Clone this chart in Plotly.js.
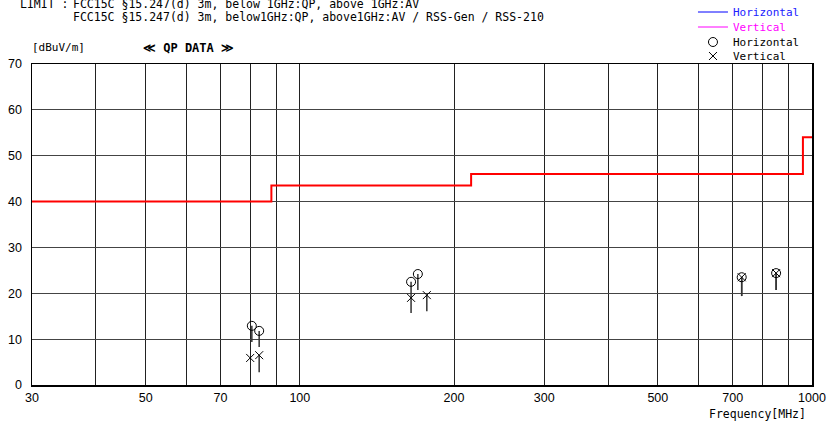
<!DOCTYPE html>
<html>
<head>
<meta charset="utf-8">
<script src="https://cdn.plot.ly/plotly-3.0.1.min.js"></script>
<style>html,body{margin:0;padding:0;background:#fff;}#chart{width:830px;height:426px;}</style>
</head>
<body>
<div id="chart"></div>
<script>
// Limit line (step)
const limitFreq = [30, 88, 216, 960, 1000];
const limitLevel = [40, 43.5, 46, 54, 54];

// Horizontal polarization QP data
const hFreq = [80.6, 83.3, 164.9, 170.0, 729, 851];
const hLevel = [12.9, 11.8, 22.5, 24.2, 23.5, 24.4];
const hStemEnd = [9.4, 8.3, 19.0, 20.7, 19.4, 20.7];

// Vertical polarization QP data
const vFreq = [80.0, 83.3, 164.9, 177.0, 729, 851];
const vLevel = [5.9, 6.5, 19.0, 19.6, 23.5, 24.4];
const vStemEnd = [5.9, 2.8, 15.7, 16.1, 19.4, 20.7];

// Axis ticks
const xGrid = [30, 40, 50, 60, 70, 80, 90, 100, 200, 300, 400, 500, 600, 700, 800, 900, 1000];
const xLabeled = [30, 50, 70, 100, 200, 300, 500, 700, 1000];
const yTicks = [0, 10, 20, 30, 40, 50, 60, 70];

function stems(f, top, bot) {
  const xs = [], ys = [];
  for (let i = 0; i < f.length; i++) {
    xs.push(f[i], f[i], null);
    ys.push(top[i], bot[i], null);
  }
  return {x: xs, y: ys};
}
const hs = stems(hFreq, hLevel, hStemEnd);
const vs = stems(vFreq, vLevel, vStemEnd);

const mono = "DejaVu Sans Mono, Liberation Mono, monospace";
const sans = "Liberation Sans, Arial, sans-serif";

const traces = [
  {x: limitFreq, y: limitLevel, type: 'scatter', mode: 'lines', line: {color: '#ff0000', width: 2, shape: 'hv'}, showlegend: false, hoverinfo: 'skip'},
  {x: hs.x, y: hs.y, type: 'scatter', mode: 'lines', line: {color: '#333', width: 1.5}, showlegend: false, hoverinfo: 'skip'},
  {x: vs.x, y: vs.y, type: 'scatter', mode: 'lines', line: {color: '#333', width: 1.5}, showlegend: false, hoverinfo: 'skip'},
  {x: [null], y: [null], type: 'scatter', mode: 'lines', legend: 'legend', name: '<span style="color:#2020ff">Horizontal</span>', line: {color: '#0000ff', width: 1}},
  {x: [null], y: [null], type: 'scatter', mode: 'lines', legend: 'legend2', name: '<span style="color:#ff00ff">Vertical</span>', line: {color: '#ff00ff', width: 1}},
  {x: hFreq, y: hLevel, type: 'scatter', mode: 'markers', legend: 'legend3', name: 'Horizontal', marker: {symbol: 'circle-open', size: 9, color: '#000', line: {width: 1, color: '#000'}}},
  {x: vFreq, y: vLevel, type: 'scatter', mode: 'markers', legend: 'legend4', name: 'Vertical', marker: {symbol: 'x-thin-open', size: 8, color: '#000', line: {width: 1, color: '#000'}}}
];

function legendAt(py) {
  return {
    x: 0.8474, xanchor: 'left', y: 1 + (64 - py) / 321, yanchor: 'middle',
    bgcolor: 'rgba(0,0,0,0)', borderwidth: 0,
    font: {family: mono, size: 11, color: '#000'},
    itemwidth: 30
  };
}

const layout = {
  width: 830, height: 426,
  margin: {l: 32, r: 18, t: 64, b: 41, autoexpand: false},
  paper_bgcolor: '#fff', plot_bgcolor: '#fff',
  font: {family: sans, size: 12, color: '#000'},
  xaxis: {
    type: 'log', range: [Math.log10(30), Math.log10(1000)],
    tickmode: 'array', tickvals: xGrid,
    ticktext: xGrid.map(v => xLabeled.includes(v) ? String(v) : ''),
    showgrid: true, gridcolor: '#222', gridwidth: 1,
    showline: true, linecolor: '#000', linewidth: 1.5, mirror: true,
    ticks: '', zeroline: false,
    tickfont: {family: sans, size: 12.5}
  },
  yaxis: {
    range: [0, 70], tickmode: 'array', tickvals: yTicks,
    showgrid: true, gridcolor: '#444', gridwidth: 1,
    showline: true, linecolor: '#000', linewidth: 1.5, mirror: true,
    ticks: '', zeroline: false, ticklabelstandoff: 6,
    tickfont: {family: sans, size: 12.5}
  },
  showlegend: true,
  legend: legendAt(12),
  legend2: legendAt(27),
  legend3: legendAt(42),
  legend4: legendAt(56),
  annotations: [
    {xref: 'paper', yref: 'paper', x: -0.018, y: 1.188, xanchor: 'left', yanchor: 'middle', showarrow: false,
     text: 'LIMIT :', font: {family: mono, size: 11.5}},
    {xref: 'paper', yref: 'paper', x: 0.05, y: 1.188, xanchor: 'left', yanchor: 'middle', showarrow: false,
     text: 'FCC15C §15.247(d) 3m, below 1GHz:QP, above 1GHz:AV', font: {family: mono, size: 11.5}},
    {xref: 'paper', yref: 'paper', x: 0.05, y: 1.146, xanchor: 'left', yanchor: 'middle', showarrow: false,
     text: 'FCC15C §15.247(d) 3m, below1GHz:QP, above1GHz:AV / RSS-Gen / RSS-210', font: {family: mono, size: 11.5}},
    {xref: 'paper', yref: 'paper', x: -0.003, y: 1.05, xanchor: 'left', yanchor: 'middle', showarrow: false,
     text: '[dBuV/m]', font: {family: mono, size: 11}},
    {xref: 'paper', yref: 'paper', x: 0.14, y: 1.05, xanchor: 'left', yanchor: 'middle', showarrow: false,
     text: '<b>≪ QP DATA ≫</b>', font: {family: mono, size: 12}},
    {xref: 'paper', yref: 'paper', x: 0.9955, y: -0.09, xanchor: 'right', yanchor: 'middle', showarrow: false,
     text: 'Frequency[MHz]', font: {family: mono, size: 11.5}}
  ]
};

Plotly.newPlot('chart', traces, layout, {staticPlot: true, displayModeBar: false});
</script>
</body>
</html>
